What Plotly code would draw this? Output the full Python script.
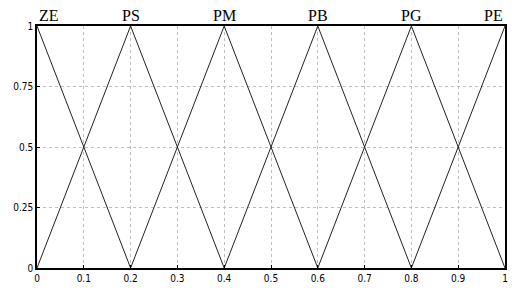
import plotly.graph_objects as go

labels = ["ZE", "PS", "PM", "PB", "PG", "PE"]
centers = [0.0, 0.2, 0.4, 0.6, 0.8, 1.0]
half_width = 0.2
x_ticks = [0, 0.1, 0.2, 0.3, 0.4, 0.5, 0.6, 0.7, 0.8, 0.9, 1.0]
x_ticktext = ["0", "0.1", "0.2", "0.3", "0.4", "0.5", "0.6", "0.7", "0.8", "0.9", "1"]
y_ticks = [0, 0.25, 0.5, 0.75, 1]
y_ticktext = ["0", "0.25", "0.5", "0.75", "1"]

fig = go.Figure()
for name, c in zip(labels, centers):
    xs = [max(c - half_width, 0), c, min(c + half_width, 1)]
    ys = [1 - (c - xs[0]) / half_width, 1, 1 - (xs[2] - c) / half_width]
    fig.add_trace(go.Scatter(x=xs, y=ys, mode="lines", name=name,
                             line=dict(color="#222", width=1), showlegend=False))

anchors = ["left", "center", "center", "center", "center", "right"]
for name, c, a in zip(labels, centers, anchors):
    fig.add_annotation(x=c, y=1, xref="x", yref="y", text=name, showarrow=False,
                       xanchor=a, yanchor="bottom", yshift=0,
                       font=dict(family="Liberation Serif", size=16, color="black"))

axis_font = dict(family="DejaVu Sans Condensed, DejaVu Sans", size=10, color="black")
grid = dict(showgrid=True, gridcolor="#bdbdbd", griddash="dot", gridwidth=1,
            showline=True, linecolor="black", linewidth=1.5, mirror=True,
            ticks="inside", ticklen=3, tickcolor="black",
            zeroline=False, tickfont=axis_font)
fig.update_xaxes(range=[0, 1], tickvals=x_ticks, ticktext=x_ticktext, **grid)
fig.update_yaxes(range=[0, 1], tickvals=y_ticks, ticktext=y_ticktext, **grid)
fig.update_layout(width=512, height=288, margin=dict(l=37, r=4, t=26, b=19),
                  plot_bgcolor="white", paper_bgcolor="white")
fig.write_html("out.html", config={"displayModeBar": False},
               post_script="document.body.style.margin='0';document.body.style.overflow='hidden';")
